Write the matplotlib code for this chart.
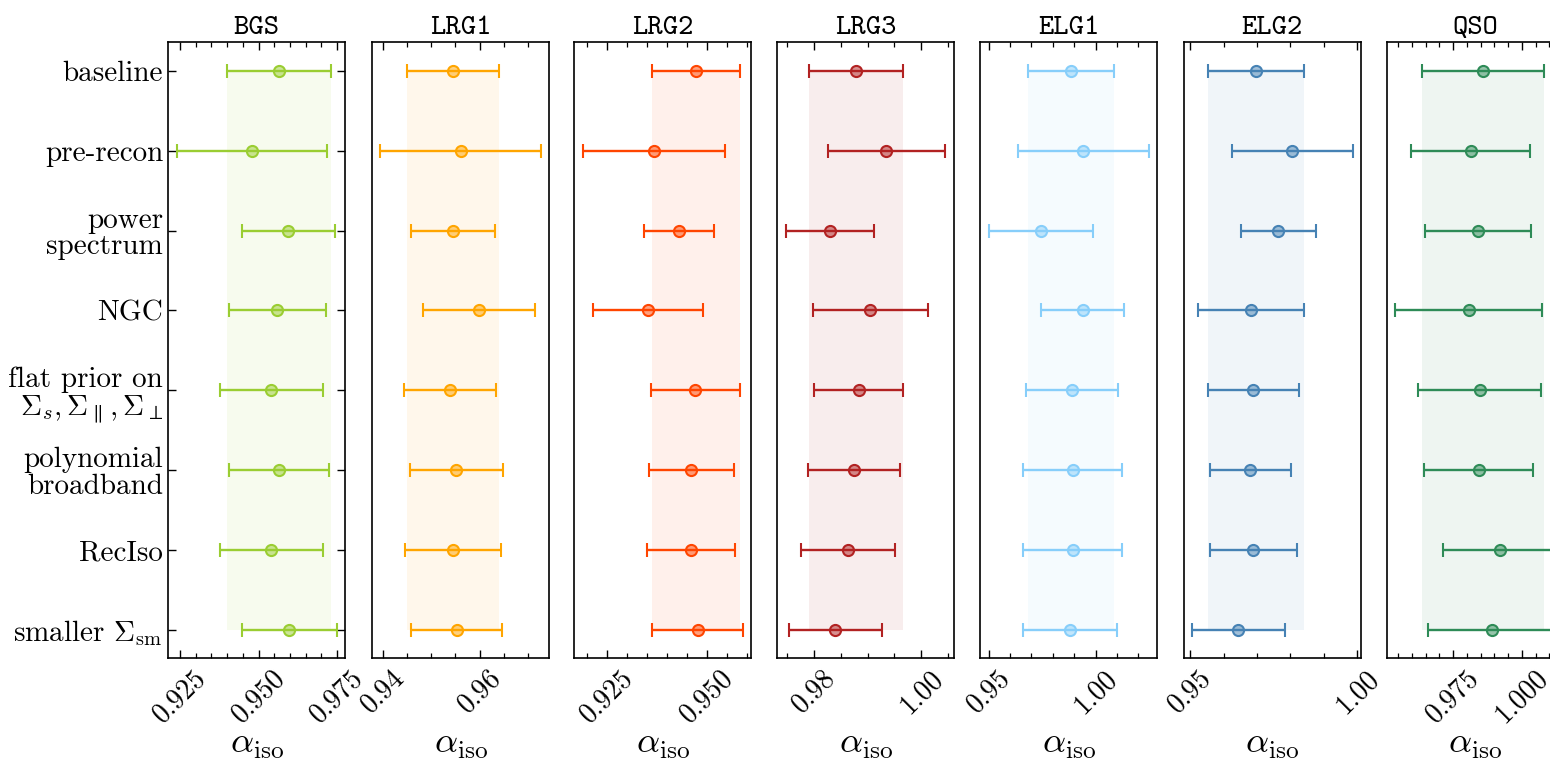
import matplotlib
matplotlib.use("Agg")
import matplotlib.pyplot as plt
import numpy as np
from matplotlib.ticker import MultipleLocator, FormatStrFormatter
from matplotlib.colors import to_rgba

plt.rcParams['font.family'] = 'cmr10'
plt.rcParams['mathtext.fontset'] = 'cm'
plt.rcParams['axes.formatter.use_mathtext'] = True

# DATOS
variantes = ["baseline", "pre-recon", "power\nspectrum", "NGC",
             "flat prior on\n$\\Sigma_s, \\Sigma_\\parallel, \\Sigma_\\perp$",
             "polynomial\nbroadband", "RecIso", "smaller $\\Sigma_{\\rm sm}$"]

trazadores = ["BGS", "LRG1", "LRG2", "LRG3", "ELG1", "ELG2", "QSO"]
colores = ["yellowgreen", "orange", "orangered", "firebrick",
           "lightskyblue", "steelblue", "seagreen"]

bgs_val = [0.9565, 0.9479, 0.9595, 0.9560, 0.9541, 0.9564, 0.9541, 0.9598]
bgs_err = [0.0166, 0.0238, 0.0147, 0.0154, 0.0164, 0.0159, 0.0164, 0.0152]
lrg1_val = [0.9545, 0.9561, 0.9545, 0.9599, 0.9539, 0.9552, 0.9545, 0.9553]
lrg1_err = [0.0095, 0.0166, 0.0087, 0.0115, 0.0094, 0.0096, 0.0099, 0.0094]
lrg2_val = [0.9473, 0.9368, 0.9431, 0.9353, 0.9471, 0.9461, 0.9461, 0.9477]
lrg2_err = [0.0110, 0.0178, 0.0088, 0.0138, 0.0111, 0.0106, 0.0110, 0.0114]
lrg3_val = [0.9879, 0.9935, 0.9829, 0.9905, 0.9883, 0.9874, 0.9864, 0.9839]
lrg3_err = [0.0088, 0.0110, 0.0082, 0.0108, 0.0084, 0.0086, 0.0088, 0.0087]
elg1_val = [0.9884, 0.9942, 0.9745, 0.9940, 0.9889, 0.9894, 0.9894, 0.9879]
elg1_err = [0.0200, 0.0306, 0.0243, 0.0194, 0.0214, 0.0231, 0.0231, 0.0220]
elg2_val = [0.9696, 0.9806, 0.9764, 0.9683, 0.9689, 0.9680, 0.9689, 0.9644]
elg2_err = [0.0144, 0.0181, 0.0113, 0.0159, 0.0137, 0.0122, 0.0130, 0.0139]
qso_val = [0.9859, 0.9814, 0.9839, 0.9806, 0.9846, 0.9843, 0.9921, 0.9890]
qso_err = [0.0222, 0.0216, 0.0193, 0.0267, 0.0223, 0.0198, 0.0208, 0.0230]

valores = [bgs_val, lrg1_val, lrg2_val, lrg3_val, elg1_val, elg2_val, qso_val]
errores = [bgs_err, lrg1_err, lrg2_err, lrg3_err, elg1_err, elg2_err, qso_err]

limites_x = [(0.9212, 0.9775), (0.9378, 0.9743), (0.9169, 0.9611), (0.9731, 1.0062),
             (0.9462, 1.0289), (0.9481, 1.0011), (0.9509, 1.0153)]
paso_mayor = [0.025, 0.02, 0.025, 0.02, 0.05, 0.05, 0.025]
paso_menor = [0.005, 0.005, 0.005, 0.005, 0.01, 0.01, 0.005]
formatos = ["%.3f", "%.2f", "%.3f", "%.2f", "%.2f", "%.2f", "%.3f"]

# FIGURA
W, H = 1550, 767
fig = plt.figure(figsize=(W / 100, H / 100), dpi=100)
izquierdas = [168, 372, 574.3, 777.3, 980.4, 1183.8, 1386.9]
ancho = 177
arriba, abajo = 42, 658

y = np.arange(len(variantes))
for i, nombre in enumerate(trazadores):
    ax = fig.add_axes([izquierdas[i] / W, 1 - abajo / H, ancho / W, (abajo - arriba) / H])
    c = colores[i]
    v = np.array(valores[i])
    e = np.array(errores[i])
    # banda del baseline
    ax.fill_betweenx([0, len(variantes) - 1], v[0] - e[0], v[0] + e[0],
                     color=c, alpha=0.08, linewidth=0)
    ax.errorbar(v, y, xerr=e, fmt='o', color=c, ecolor=c, elinewidth=1.7,
                capsize=5, capthick=1.4, markersize=8,
                markerfacecolor=to_rgba(c, 0.5), markeredgecolor=c,
                markeredgewidth=1.5)
    ax.set_xlim(*limites_x[i])
    ax.set_ylim(7.35, -0.36)
    ax.xaxis.set_major_locator(MultipleLocator(paso_mayor[i]))
    ax.xaxis.set_minor_locator(MultipleLocator(paso_menor[i]))
    ax.xaxis.set_major_formatter(FormatStrFormatter(formatos[i]))
    ax.tick_params(axis='x', which='both', direction='in', top=True, bottom=True)
    ax.tick_params(axis='x', which='major', length=6, width=1, labelsize=20,
                   labelrotation=45, pad=5)
    ax.tick_params(axis='x', which='minor', length=3.5, width=0.9)
    ax.set_title(nombre, fontsize=21, fontfamily='cmtt10', pad=6)
    ax.set_xlabel(r"$\alpha_{\rm iso}$", fontsize=26, va='center')
    ax.xaxis.set_label_coords(0.5, -(745 - abajo) / (abajo - arriba))
    for s in ax.spines.values():
        s.set_linewidth(1.2)
    ax.set_yticks(y)
    if i == 0:
        ax.set_yticklabels(variantes, fontsize=21, linespacing=1.0)
        ax.tick_params(axis='y', direction='in', left=True, right=True, length=6, width=1)
    else:
        ax.set_yticklabels([])
        ax.tick_params(axis='y', left=False, right=False)

fig.savefig("out.png", dpi=100)
